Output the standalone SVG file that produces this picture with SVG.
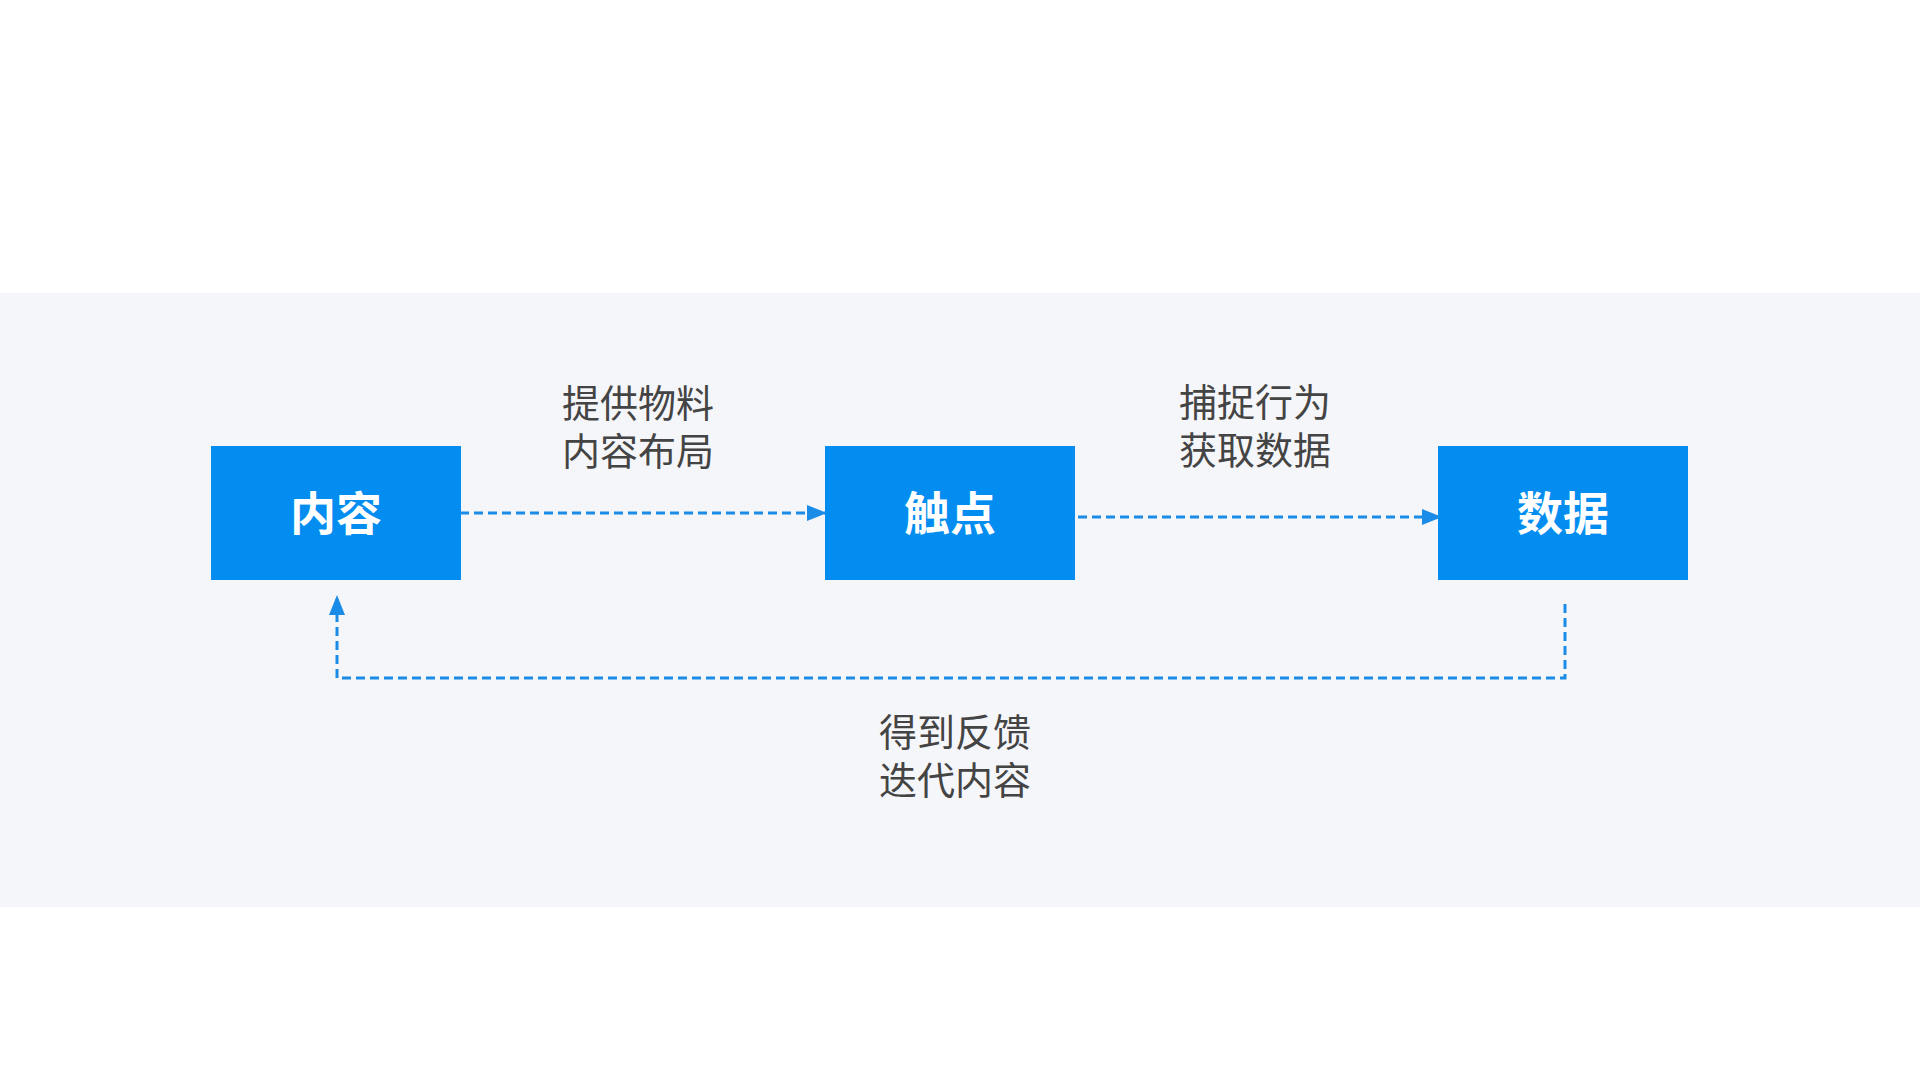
<svg xmlns="http://www.w3.org/2000/svg" width="1920" height="1080" viewBox="0 0 1920 1080">
<style>
.box{fill:#038df0}
.bt{font-family:"Liberation Sans","Noto Sans CJK SC",sans-serif;font-size:46px;font-weight:bold;fill:#fff;text-anchor:middle}
.lb{font-family:"Liberation Sans","Noto Sans CJK SC",sans-serif;font-size:38px;fill:#444;text-anchor:start}
.ln{fill:none;stroke:#1a8be6;stroke-width:3;stroke-dasharray:9 5}
</style>
<defs><marker id="ah" markerWidth="10" markerHeight="10" refX="9" refY="5" orient="auto" markerUnits="userSpaceOnUse" viewBox="0 0 10 10"><path d="M0,0L10,5L0,10z" fill="#1a8be6"/></marker>
<marker id="ah2" markerWidth="20" markerHeight="20" refX="18" refY="10" orient="auto" markerUnits="userSpaceOnUse" viewBox="0 0 20 20"><path d="M0,2L20,10L0,18z" fill="#1a8be6"/></marker></defs>
<rect width="1920" height="1080" fill="#fff"/>
<rect x="0" y="293" width="1920" height="614" fill="#f5f6fa"/>
<g id="connectors">
<path class="ln" d="M460,513H825" marker-end="url(#ah2)"/>
<path class="ln" d="M1078,517H1440" marker-end="url(#ah2)"/>
<path class="ln" d="M1565,604V678H337V597" marker-end="url(#ah2)"/>
</g>
<g id="n1"><rect class="box" x="211" y="446" width="250" height="134"/><text class="bt" x="336" y="530">内容</text></g>
<g id="n2"><rect class="box" x="825" y="446" width="250" height="134"/><text class="bt" x="950" y="530">触点</text></g>
<g id="n3"><rect class="box" x="1438" y="446" width="250" height="134"/><text class="bt" x="1563" y="530">数据</text></g>
<g id="labels">
<text class="lb" x="562" y="417">提供物料</text><text class="lb" x="562" y="465">内容布局</text>
<text class="lb" x="1179" y="416">捕捉行为</text><text class="lb" x="1179" y="464">获取数据</text>
<text class="lb" x="879" y="746">得到反馈</text><text class="lb" x="879" y="794">迭代内容</text>
</g>
</svg>
